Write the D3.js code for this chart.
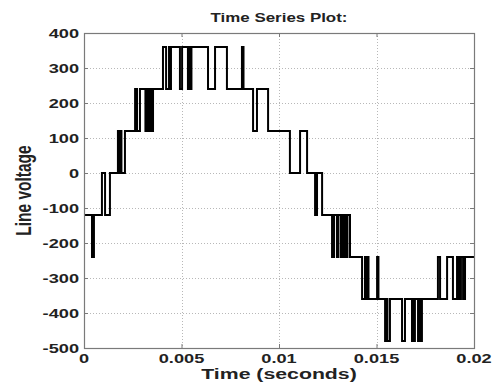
<!DOCTYPE html>
<html>
<head>
<meta charset="utf-8">
<script src="https://cdn.jsdelivr.net/npm/d3@7"></script>
<style>
  html, body { margin: 0; padding: 0; background: #fff; }
  svg { display: block; }
  text { font-family: "Liberation Sans", Arial, sans-serif; font-weight: bold; fill: #222; }
</style>
</head>
<body>
<svg id="chart" width="494" height="385"></svg>
<script>
// Line voltage of a multilevel inverter over one 50 Hz cycle.
// Each entry: instant (s) at which the output switches, and the level (V) it switches to.
const switchTimes = [
  0.00000, 0.00041, 0.00051, 0.00092, 0.00108, 0.00133, 0.00174, 0.00182, 0.00187, 0.00192,
  0.00210, 0.00262, 0.00272, 0.00287, 0.00315, 0.00321, 0.00326, 0.00331, 0.00336, 0.00344,
  0.00349, 0.00354, 0.00405, 0.00421, 0.00436, 0.00441, 0.00446, 0.00492, 0.00503, 0.00533,
  0.00538, 0.00544, 0.00551, 0.00636, 0.00672, 0.00733, 0.00810, 0.00818, 0.00867, 0.00887,
  0.00944, 0.01056, 0.01108, 0.01144, 0.01185, 0.01195, 0.01221, 0.01272, 0.01282, 0.01297,
  0.01305, 0.01318, 0.01323, 0.01333, 0.01338, 0.01344, 0.01351, 0.01364, 0.01426, 0.01441,
  0.01449, 0.01454, 0.01459, 0.01503, 0.01510, 0.01544, 0.01551, 0.01556, 0.01569, 0.01631,
  0.01646, 0.01682, 0.01687, 0.01692, 0.01697, 0.01713, 0.01723, 0.01728, 0.01733, 0.01815,
  0.01826, 0.01862, 0.01892, 0.01913, 0.01923, 0.01933, 0.01944, 0.01954
];
const levels = [
  -120, -240, -120, 0, -120, 0, 120, 0, 120, 0,
  120, 240, 120, 240, 120, 240, 120, 240, 120, 240,
  120, 240, 360, 240, 360, 240, 360, 240, 360, 240,
  360, 240, 360, 240, 360, 240, 360, 240, 120, 240,
  120, 0, 120, 0, -120, 0, -120, -240, -120, -240,
  -120, -240, -120, -240, -120, -240, -120, -240, -360, -240,
  -360, -240, -360, -240, -360, -480, -360, -480, -360, -480,
  -360, -480, -360, -480, -360, -480, -360, -480, -360, -240,
  -360, -240, -360, -240, -360, -240, -360, -240
];
const endTime = 0.02;

const xTicks = [0, 0.005, 0.01, 0.015, 0.02];
const xTickLabels = ["0", "0.005", "0.01", "0.015", "0.02"];
const yTicks = [-500, -400, -300, -200, -100, 0, 100, 200, 300, 400];
const titleText = "Time Series Plot:";
const xLabelText = "Time (seconds)";
const yLabelText = "Line voltage";

// Text glyphs are drawn wider than tall
const STRETCH = 1.4;

const svg = d3.select("#chart");
const plotLeft = 84, plotRight = 474, plotTop = 33, plotBottom = 348;

const x = d3.scaleLinear().domain([0, 0.02]).range([plotLeft, plotRight]);
const y = d3.scaleLinear().domain([-500, 400]).range([plotBottom, plotTop]);

// dotted grid
const grid = svg.append("g").attr("stroke", "#b8b8b8").attr("stroke-width", 1)
  .attr("stroke-dasharray", "1,2");
grid.selectAll("line.gx").data(xTicks.slice(1, -1)).join("line")
  .attr("x1", d => Math.round(x(d)) + 0.5).attr("x2", d => Math.round(x(d)) + 0.5)
  .attr("y1", plotTop).attr("y2", plotBottom);
grid.selectAll("line.gy").data(yTicks.slice(1, -1)).join("line")
  .attr("y1", d => Math.round(y(d)) + 0.5).attr("y2", d => Math.round(y(d)) + 0.5)
  .attr("x1", plotLeft).attr("x2", plotRight);

// waveform
const pts = switchTimes.map((t, i) => [t, levels[i]]);
pts.push([endTime, levels[levels.length - 1]]);
const line = d3.line().x(d => x(d[0])).y(d => y(d[1])).curve(d3.curveStepAfter);
svg.append("path").datum(pts)
  .attr("d", line)
  .attr("fill", "none").attr("stroke", "#000").attr("stroke-width", 2)
  .attr("stroke-linejoin", "miter");

// axes: ticks point inward on all four sides
const tickLen = 4;
const axisColor = "#7a7a7a";
function styleAxis(g) {
  g.select(".domain").remove();
  g.selectAll(".tick line").attr("stroke", axisColor);
  g.selectAll(".tick text").remove();
}
svg.append("g").attr("transform", `translate(0,${plotBottom})`)
  .call(d3.axisBottom(x).tickValues(xTicks).tickSize(-tickLen)).call(styleAxis);
svg.append("g").attr("transform", `translate(0,${plotTop})`)
  .call(d3.axisTop(x).tickValues(xTicks).tickSize(-tickLen)).call(styleAxis);
svg.append("g").attr("transform", `translate(${plotLeft},0)`)
  .call(d3.axisLeft(y).tickValues(yTicks).tickSize(-tickLen)).call(styleAxis);
svg.append("g").attr("transform", `translate(${plotRight},0)`)
  .call(d3.axisRight(y).tickValues(yTicks).tickSize(-tickLen)).call(styleAxis);

// box
svg.append("rect").attr("x", plotLeft + 0.5).attr("y", plotTop + 0.5)
  .attr("width", plotRight - plotLeft).attr("height", plotBottom - plotTop)
  .attr("fill", "none").attr("stroke", axisColor).attr("stroke-width", 1.2);

// tick labels
svg.append("g").selectAll("text").data(xTicks).join("text")
  .attr("transform", d => `translate(${x(d)},${plotBottom + 15}) scale(${STRETCH},1)`)
  .attr("text-anchor", "middle").attr("font-size", 13)
  .text((d, i) => xTickLabels[i]);
svg.append("g").selectAll("text").data(yTicks).join("text")
  .attr("transform", d => `translate(${plotLeft - 5},${y(d) + 4.5}) scale(${STRETCH},1)`)
  .attr("text-anchor", "end").attr("font-size", 13)
  .text(d => d);

// title and axis labels
svg.append("text")
  .attr("transform", `translate(${(plotLeft + plotRight) / 2},${plotTop - 11}) scale(${STRETCH * 0.93},1)`)
  .attr("text-anchor", "middle").attr("font-size", 13)
  .text(titleText);
svg.append("text")
  .attr("transform", `translate(${(plotLeft + plotRight) / 2},${plotBottom + 31}) scale(${STRETCH * 0.98},1)`)
  .attr("text-anchor", "middle").attr("font-size", 15.5)
  .text(xLabelText);
svg.append("text")
  .attr("transform", `translate(31,${(plotTop + plotBottom) / 2}) scale(${STRETCH},1) rotate(-90)`)
  .attr("text-anchor", "middle").attr("font-size", 15.5)
  .text(yLabelText);
</script>
</body>
</html>
